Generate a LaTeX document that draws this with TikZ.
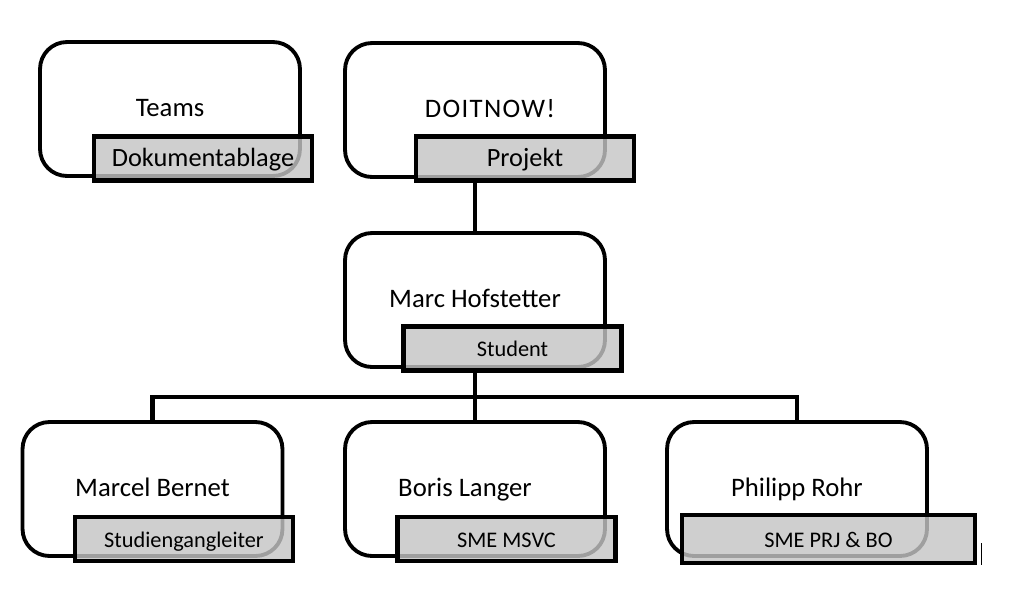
\documentclass[tikz,border=0pt]{standalone}
\usepackage{fontspec}
\setmainfont{Carlito}
\usepackage{tikz}
\usetikzlibrary{positioning, backgrounds}
\definecolor{cR}{RGB}{197,197,197}

\begin{document}
\begin{tikzpicture}[x=0.02cm, y=-0.02cm,
    person/.style={draw, rounded corners=0.54cm, line width=2.2pt, fill=white,
                   minimum width=5.2cm, minimum height=2.68cm,
                   text height=11.5pt, text depth=3pt,
                   font=\fontsize{15.2}{17}\selectfont},
    role/.style={draw, line width=2.7pt, fill=cR, fill opacity=0.81, text opacity=1,
                 minimum width=4.36cm, minimum height=0.88cm,
                 text height=12pt, text depth=2.5pt, inner ysep=0pt,
                 font=\fontsize{12.7}{15}\selectfont},
    bigrole/.style={role, font=\fontsize{15}{17}\selectfont},
    link/.style={line width=2.3pt}]

    \useasboundingbox (0,0) rectangle (1026,592);

    % Top row
    \node[person] (Teams) at (170, 109)   {Teams};
    \node[person] (Doit)  at (475, 110)   {\hspace*{0.6cm}\addfontfeature{LetterSpace=5}DOITNOW!};
    \node[bigrole] (TeamsRole) at (203, 158.5) {Dokumentablage};
    \node[bigrole] (DoitRole)  at (525, 158.5) {Projekt};

    % Student
    \node[person] (Marc)     at (475, 300)   {Marc Hofstetter};
    \node[role]   (MarcRole) at (512.5, 348.5) {Student};

    % Bottom row
    \node[person] (Marcel)  at (152.5, 489) {Marcel Bernet};
    \node[person] (Boris)   at (475, 489)   {Boris Langer\hspace*{0.4cm}};
    \node[person] (Philipp) at (797, 489)   {Philipp Rohr};
    \node[role] (MarcelRole)  at (184, 539)   {Studiengangleiter};
    \node[role] (BorisRole)   at (506.5, 539) {SME MSVC};
    \node[role, minimum width=5.86cm, minimum height=0.96cm]
                (PhilippRole) at (828.5, 539) {SME PRJ \& BO};

    \coordinate (split) at (475, 397);

    % Connectors
    \begin{scope}[on background layer]
        \draw[link] (Doit.south) -- (Marc.north);
        \draw[link] (Marc.south) -- (split);
        \draw[link] (Marcel.north) |- (split) -| (Philipp.north);
        \draw[link] (split) -- (Boris.north);
    \end{scope}

    \draw[line width=0.8pt] ([shift={(4,4)}]PhilippRole.east) -- ([shift={(4,0)}]PhilippRole.south east);

\end{tikzpicture}
\end{document}
